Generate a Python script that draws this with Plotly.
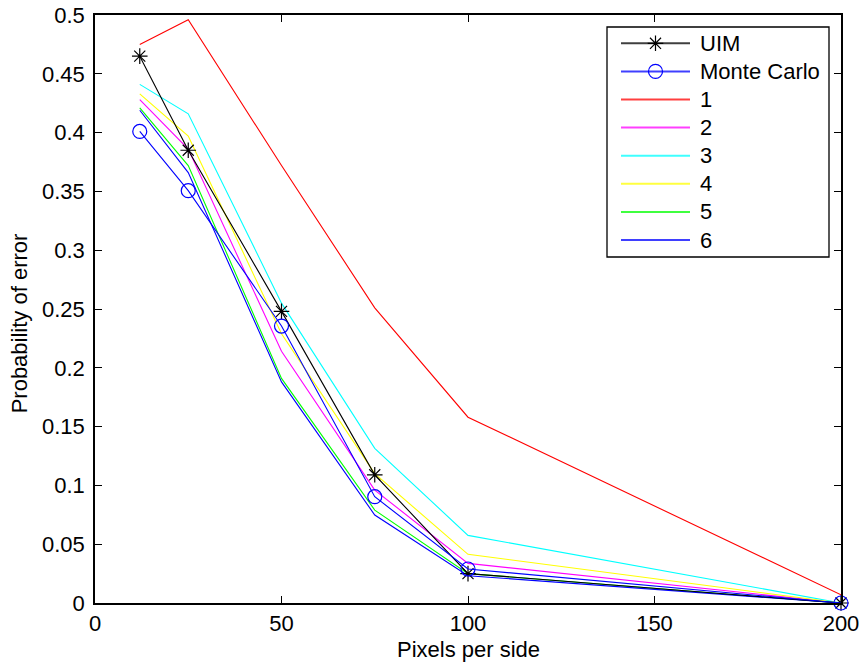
import plotly.graph_objects as go

# Pixels per side at which each method was evaluated
pixels = [12, 25, 50, 75, 100, 200]

# Probability of error for each method
uim = [0.465, 0.385, 0.248, 0.109, 0.025, 0.0]
monte_carlo = [0.401, 0.3506, 0.2355, 0.0904, 0.0289, 0.0]
series_1 = [0.475, 0.496, 0.372, 0.251, 0.158, 0.007]
series_2 = [0.428, 0.386, 0.214, 0.096, 0.0337, 0.0]
series_3 = [0.441, 0.416, 0.255, 0.1315, 0.0575, 0.0]
series_4 = [0.433, 0.397, 0.229, 0.110, 0.0414, 0.0]
series_5 = [0.421, 0.372, 0.191, 0.079, 0.025, 0.0]
series_6 = [0.419, 0.366, 0.188, 0.0748, 0.0232, 0.0]

x_ticks = [0, 50, 100, 150, 200]
y_ticks = [0, 0.05, 0.1, 0.15, 0.2, 0.25, 0.3, 0.35, 0.4, 0.45, 0.5]
y_tick_labels = ["0", "0.05", "0.1", "0.15", "0.2", "0.25", "0.3", "0.35", "0.4", "0.45", "0.5"]

FONT = "Liberation Sans, Arial, sans-serif"
W, H = 861, 665
M_L, M_R, M_T, M_B = 95, 20, 15, 62

# style of each series: (legend label, values, colour, marker symbol, marker size)
styles = [
    ("UIM", uim, "#000000", "asterisk-open", 13),
    ("Monte Carlo", monte_carlo, "#0000ff", "circle-open", 14),
    ("1", series_1, "#ff0000", None, 0),
    ("2", series_2, "#ff00ff", None, 0),
    ("3", series_3, "#00ffff", None, 0),
    ("4", series_4, "#ffff00", None, 0),
    ("5", series_5, "#00ff00", None, 0),
    ("6", series_6, "#0000ff", None, 0),
]

fig = go.Figure()

# plain lines first, then the marked series on top
for name, vals, color, symbol, size in styles[2:] + styles[:2]:
    tr = dict(x=pixels, y=vals, name=name, showlegend=False,
              line=dict(color=color, width=1.1), hoverinfo="x+y+name")
    if symbol:
        tr.update(mode="lines+markers", cliponaxis=False,
                  marker=dict(symbol=symbol, size=size, color=color,
                              line=dict(color=color, width=1.2)))
    else:
        tr.update(mode="lines")
    fig.add_trace(go.Scatter(**tr))

axis_common = dict(
    showgrid=False, zeroline=False, showline=True, linecolor="#000000",
    linewidth=1.5, mirror="ticks", ticks="inside", ticklen=7,
    tickwidth=1, tickcolor="#000000", automargin=False,
    tickfont=dict(family=FONT, size=22, color="#000000"),
)

fig.update_layout(
    xaxis=dict(range=[0, 200], tickvals=x_ticks, **axis_common),
    yaxis=dict(range=[0, 0.5], tickvals=y_ticks, ticktext=y_tick_labels,
               ticklabelstandoff=4, **axis_common),
    # pixel-space overlay used to lay out the legend box
    xaxis2=dict(overlaying="x", range=[M_L, W - M_R], visible=False,
                fixedrange=True),
    yaxis2=dict(overlaying="y", range=[H - M_B, M_T], visible=False,
                fixedrange=True),
)

# legend box in pixel coordinates
box_l, box_r, box_t, box_b = 607, 829, 27, 257
row0, row_gap = 43.3, 28.1
line_l, line_r, text_x = 621, 690, 698

shapes = [dict(type="rect", xref="x2", yref="y2", x0=box_l, x1=box_r,
               y0=box_t, y1=box_b, line=dict(color="#000000", width=1.3),
               fillcolor="#ffffff", layer="below")]
annotations = []
for i, (name, vals, color, symbol, size) in enumerate(styles):
    yy = row0 + i * row_gap
    shapes.append(dict(type="line", xref="x2", yref="y2", x0=line_l,
                       x1=line_r, y0=yy, y1=yy, layer="below", opacity=0.75,
                       line=dict(color=color, width=2)))
    annotations.append(dict(text=name, xref="x2", yref="y2", x=text_x, y=yy,
                            xanchor="left", yanchor="middle", showarrow=False,
                            font=dict(family=FONT, size=22, color="#000000")))
    if symbol:
        fig.add_trace(go.Scatter(
            x=[(line_l + line_r) / 2], y=[yy], xaxis="x2", yaxis="y2",
            mode="markers", showlegend=False, hoverinfo="skip",
            marker=dict(symbol=symbol, size=size, color=color,
                        line=dict(color=color, width=1.2)),
        ))

annotations += [
    dict(text="Pixels per side", xref="paper", yref="paper",
         x=0.5, y=-0.079, xanchor="center", yanchor="middle",
         showarrow=False, font=dict(family=FONT, size=22)),
    dict(text="Probability of error", xref="paper", yref="paper",
         x=-0.101, y=0.475, xanchor="center", yanchor="middle",
         textangle=-90, showarrow=False, font=dict(family=FONT, size=22)),
]

fig.update_layout(
    width=W, height=H,
    margin=dict(l=M_L, r=M_R, t=M_T, b=M_B),
    paper_bgcolor="#ffffff", plot_bgcolor="#ffffff",
    font=dict(family=FONT, size=22, color="#000000"),
    showlegend=False,
    shapes=shapes,
    annotations=annotations,
)

fig.write_html("out.html")
